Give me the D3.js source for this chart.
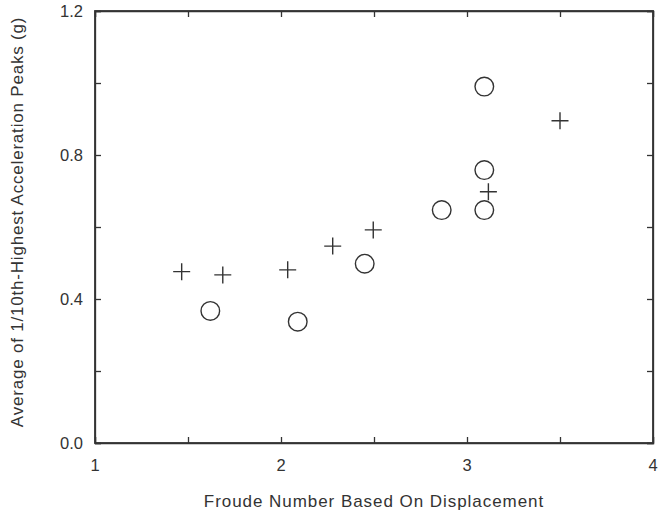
<!DOCTYPE html>
<html>
<head>
<meta charset="utf-8">
<script src="https://d3js.org/d3.v7.min.js"></script>
<style>
  body { margin: 0; background: #fff; }
  text { font-family: "Liberation Sans", Arial, sans-serif; fill: #333; }
</style>
</head>
<body>
<div id="chart"></div>
<script>
// crosses (+) series
var crossX = [1.466, 1.687, 2.036, 2.278, 2.496, 3.115, 3.50];
var crossY = [0.476, 0.467, 0.481, 0.547, 0.592, 0.698, 0.895];
// circles (o) series
var circleX = [1.62, 2.09, 2.45, 2.864, 3.093, 3.093, 3.093];
var circleY = [0.367, 0.337, 0.498, 0.647, 0.99, 0.758, 0.647];

var xTicks = [1, 1.5, 2, 2.5, 3, 3.5, 4];
var xLabels = [1, 2, 3, 4];
var yTicks = [0, 0.2, 0.4, 0.6, 0.8, 1.0, 1.2];
var yLabels = [0, 0.4, 0.8, 1.2];

var width = 658, height = 518;
var margin = {top: 11, right: 5, bottom: 75, left: 95};
var w = width - margin.left - margin.right,
    h = height - margin.top - margin.bottom;
var ink = '#333';

var svg = d3.select('#chart').append('svg')
    .attr('width', width)
    .attr('height', height);
var g = svg.append('g')
    .attr('transform', 'translate(' + margin.left + ',' + margin.top + ')');

var x = d3.scaleLinear().domain([1, 4]).range([0, w]);
var y = d3.scaleLinear().domain([0, 1.2]).range([h, 0]);

// inward ticks on all four sides
var tickLen = 6;
g.append('g').attr('transform', 'translate(0,' + h + ')')
    .call(d3.axisBottom(x).tickValues(xTicks).tickSize(-tickLen).tickFormat(''));
g.append('g')
    .call(d3.axisTop(x).tickValues(xTicks).tickSize(-tickLen).tickFormat(''));
g.append('g')
    .call(d3.axisLeft(y).tickValues(yTicks).tickSize(-tickLen).tickFormat(''));
g.append('g').attr('transform', 'translate(' + w + ',0)')
    .call(d3.axisRight(y).tickValues(yTicks).tickSize(-tickLen).tickFormat(''));
g.selectAll('.domain, .tick line').attr('stroke', ink).attr('stroke-width', 1.3);

// frame
g.append('rect').attr('width', w).attr('height', h)
    .attr('fill', 'none').attr('stroke', ink).attr('stroke-width', 1.8);

// tick labels
g.selectAll('.xlab').data(xLabels).enter().append('text')
    .attr('x', function (d) { return x(d); })
    .attr('y', h + 28)
    .attr('text-anchor', 'middle')
    .style('font-size', '16.5px')
    .text(function (d) { return d; });
g.selectAll('.ylab').data(yLabels).enter().append('text')
    .attr('x', -12)
    .attr('y', function (d) { return y(d) + 6; })
    .attr('text-anchor', 'end')
    .style('font-size', '16.5px')
    .text(function (d) { return d.toFixed(1); });

// axis titles
g.append('text')
    .attr('x', w / 2).attr('y', h + 64)
    .attr('text-anchor', 'middle')
    .style('font-size', '17px')
    .style('letter-spacing', '0.95px')
    .text('Froude Number Based On Displacement');
g.append('text')
    .attr('transform', 'translate(' + (-72) + ',' + (h / 2 - 5) + ') rotate(-90)')
    .attr('text-anchor', 'middle')
    .style('font-size', '17px')
    .style('letter-spacing', '0.8px')
    .text('Average of 1/10th-Highest Acceleration Peaks (g)');

// markers
var crossData = crossX.map(function (d, i) { return [d, crossY[i]]; });
var circleData = circleX.map(function (d, i) { return [d, circleY[i]]; });
var arm = 8.5;
g.selectAll('.cross').data(crossData).enter().append('path')
    .attr('d', function (d) {
        var cx = x(d[0]), cy = y(d[1]);
        return 'M' + (cx - arm) + ',' + cy + 'H' + (cx + arm) +
               'M' + cx + ',' + (cy - arm) + 'V' + (cy + arm);
    })
    .attr('stroke', ink).attr('stroke-width', 1.4).attr('fill', 'none');
g.selectAll('.circ').data(circleData).enter().append('circle')
    .attr('cx', function (d) { return x(d[0]); })
    .attr('cy', function (d) { return y(d[1]); })
    .attr('r', 9.3)
    .attr('stroke', ink).attr('stroke-width', 1.4).attr('fill', 'none');
</script>
</body>
</html>
